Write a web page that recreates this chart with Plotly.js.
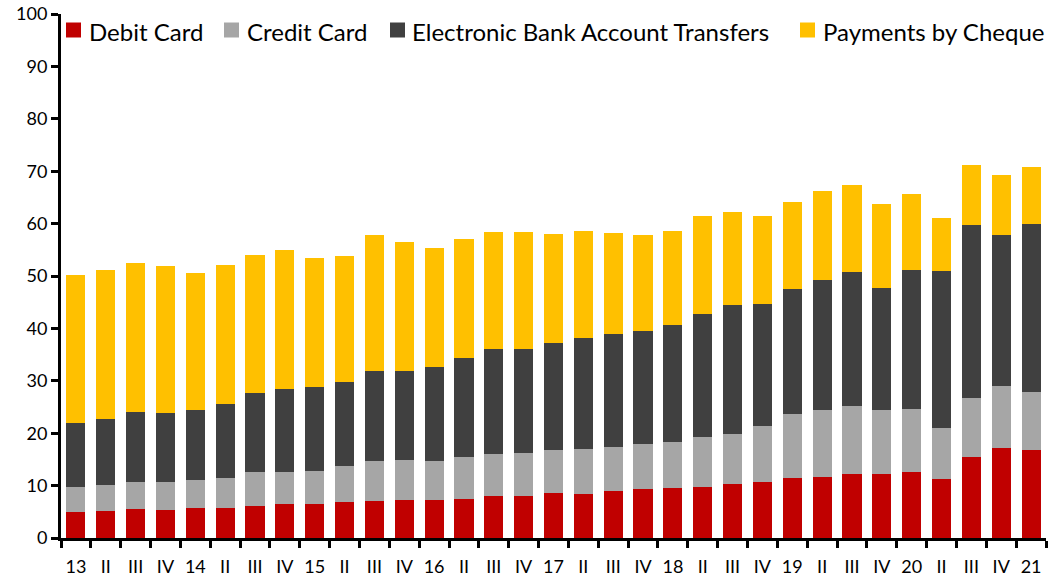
<!DOCTYPE html>
<html>
<head>
<meta charset="utf-8">
<script src="https://cdn.plot.ly/plotly-3.0.1.min.js"></script>
<style>html,body{margin:0;padding:0;background:#fff;}#chart{width:1051px;height:579px;}</style>
</head>
<body>
<div id="chart"></div>
<script>
const quarterLabels = ["13","II","III","IV","14","II","III","IV","15","II","III","IV","16","II","III","IV","17","II","III","IV","18","II","III","IV","19","II","III","IV","20","II","III","IV","21"];
const debitCard = [5.0,5.1,5.5,5.4,5.7,5.8,6.1,6.4,6.4,6.8,7.1,7.2,7.3,7.5,8.0,8.0,8.5,8.4,9.0,9.3,9.6,9.8,10.4,10.7,11.4,11.6,12.2,12.2,12.6,11.2,15.5,17.1,16.8];
const creditCard = [4.8,5.1,5.2,5.2,5.4,5.6,6.5,6.2,6.4,7.0,7.6,7.6,7.4,8.0,8.0,8.2,8.2,8.5,8.4,8.7,8.7,9.5,9.5,10.6,12.3,12.8,12.9,12.3,12.1,9.8,11.3,11.9,11.1];
const bankTransfers = [12.1,12.5,13.3,13.2,13.3,14.2,15.0,15.8,16.1,15.9,17.2,17.0,17.9,18.8,20.1,19.9,20.5,21.2,21.6,21.5,22.3,23.5,24.6,23.4,23.8,24.9,25.6,23.2,26.5,29.9,33.0,28.9,32.0];
const cheques = [28.2,28.5,28.5,28.2,26.2,26.5,26.5,26.6,24.5,24.2,26.0,24.7,22.7,22.7,22.3,22.3,20.9,20.4,19.3,18.3,17.9,18.6,17.7,16.8,16.7,16.9,16.6,16.0,14.4,10.1,11.4,11.3,10.9];
const yTicks = [0,10,20,30,40,50,60,70,80,90,100];
const seriesNames = ["Debit Card","Credit Card","Electronic Bank Account Transfers","Payments by Cheque"];
const seriesColors = ["#C00000","#A6A6A6","#404040","#FFC000"];

const xIdx = quarterLabels.map((_, i) => i);
const FONT = "Lato, 'Liberation Sans', sans-serif";

const W = 1051, H = 579;
const M = {l: 61, r: 5, t: 14, b: 41};
const pw = W - M.l - M.r, ph = H - M.t - M.b;
const px2x = p => (p - M.l) / pw;
const py2y = p => (H - M.b - p) / ph;

const allVals = [debitCard, creditCard, bankTransfers, cheques];
const data = allVals.map((vals, k) => ({
  type: "bar", name: seriesNames[k], x: xIdx, y: vals,
  marker: {color: seriesColors[k], line: {width: 0}},
  hoverinfo: "y+name", showlegend: false
}));

// manual legend (one row, like the original)
const legendSquareLeft = [66, 224, 390, 800];
const legendTextLeft = [87, 245, 410, 821];
const legendCenterY = 30, sq = 15;
const shapes = seriesNames.map((n, k) => ({
  type: "rect", xref: "paper", yref: "paper",
  x0: px2x(legendSquareLeft[k]), x1: px2x(legendSquareLeft[k] + sq),
  y0: py2y(legendCenterY + sq / 2), y1: py2y(legendCenterY - sq / 2),
  fillcolor: seriesColors[k], line: {width: 0}
}));
const annotations = seriesNames.map((n, k) => ({
  text: n, xref: "paper", yref: "paper",
  x: px2x(legendTextLeft[k]), y: py2y(legendCenterY + 1),
  xanchor: "left", yanchor: "middle", showarrow: false,
  font: {family: FONT, size: 24, color: "#000"}
}));

const layout = {
  width: W, height: H,
  margin: {l: M.l, r: M.r, t: M.t, b: M.b, pad: 0},
  barmode: "stack",
  bargap: 0.36,
  paper_bgcolor: "#fff", plot_bgcolor: "#fff",
  font: {family: FONT, color: "#000", size: 18},
  showlegend: false,
  shapes: shapes,
  annotations: annotations,
  xaxis: {
    range: [-0.5, quarterLabels.length - 0.5],
    tickmode: "array", tickvals: xIdx, ticktext: quarterLabels,
    ticks: "", showgrid: false, zeroline: false,
    showline: true, linecolor: "#000", linewidth: 3,
    tickfont: {family: FONT, size: 18, color: "#000"},
    ticklabelstandoff: 10,
    minor: {tick0: -0.5, dtick: 1, ticks: "outside", ticklen: 7, tickwidth: 3, tickcolor: "#000", showgrid: false}
  },
  yaxis: {
    range: [0, 100],
    tickmode: "array", tickvals: yTicks,
    ticks: "outside", ticklen: 7, tickwidth: 3, tickcolor: "#000",
    showgrid: false, zeroline: false,
    showline: true, linecolor: "#000", linewidth: 3,
    tickfont: {family: FONT, size: 18, color: "#000"}
  }
};

Plotly.newPlot("chart", data, layout, {displayModeBar: false, staticPlot: true});
</script>
</body>
</html>
